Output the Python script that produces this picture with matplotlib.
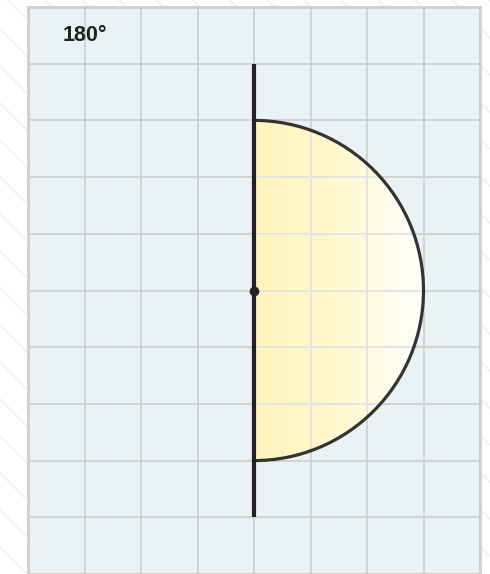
import numpy as np
import matplotlib
matplotlib.use("Agg")
import matplotlib.pyplot as plt
from matplotlib.patches import Wedge
from matplotlib.colors import LinearSegmentedColormap

# data
angle_label = "180°"
angle_deg = 180
center = (4, 0)
radius = 3
line_half_len = 4
n_cols = 8
row_range = (-5, 5)
fill_left = "#fff5bc"
fill_mid = "#fff8d0"
fill_right = "#ffffff"

fig = plt.figure(figsize=(4.9, 5.74), dpi=100)
fig.patch.set_facecolor("white")

# background diagonal lines
bg = fig.add_axes([0, 0, 1, 1])
bg.set_xlim(0, 490)
bg.set_ylim(574, 0)
bg.axis("off")
for c in np.arange(-600, 600, 37):
    bg.plot([0, 700], [c, c + 700], color="#f1f1f1", lw=1.3, zorder=0)

W, H = 490, 574
ax = fig.add_axes([28 / W, 0, 452 / W, (574 - 7) / H])
ax.set_facecolor("#eaf3f3")
for s in ax.spines.values():
    s.set_color("#cfcfcf")
    s.set_linewidth(2)
ax.set_xticks(np.arange(0, n_cols + 1))
ax.set_yticks(np.arange(row_range[0], row_range[1] + 1))
ax.tick_params(length=0, labelleft=False, labelbottom=False)
ax.grid(True, color="#d0d0d0", lw=1.3, zorder=1)
ax.set_axisbelow(True)

# gradient semicircle
cx, cy = center
theta1 = 90 - angle_deg
theta2 = 90
grad = np.linspace(0, 1, 256).reshape(1, -1)
cmap = LinearSegmentedColormap.from_list("g", [fill_left, fill_mid, fill_right])
im = ax.imshow(grad, extent=[cx, cx + radius, cy - radius, cy + radius],
               cmap=cmap, aspect="auto", zorder=3)
clip = Wedge((cx, cy), radius, theta1, theta2, transform=ax.transData)
im.set_clip_path(clip)

# faint grid lines showing through the fill
for gx in np.arange(0, n_cols + 1):
    ln, = ax.plot([gx, gx], [row_range[0], row_range[1]], color="#e3e3e3",
                  lw=1.3, zorder=3.5)
    ln.set_clip_path(Wedge((cx, cy), radius, theta1, theta2, transform=ax.transData))
for gy in np.arange(row_range[0], row_range[1] + 1):
    ln, = ax.plot([0, n_cols], [gy, gy], color="#e3e3e3", lw=1.3, zorder=3.5)
    ln.set_clip_path(Wedge((cx, cy), radius, theta1, theta2, transform=ax.transData))

wedge = Wedge((cx, cy), radius, theta1, theta2, facecolor="none",
              edgecolor="#333333", lw=2.3, zorder=4)
ax.add_patch(wedge)

ax.plot([cx, cx], [cy - line_half_len, cy + line_half_len], color="#222222",
        lw=3, zorder=5, solid_capstyle="butt")
ax.plot([cx], [cy], "o", color="#222222", ms=6, zorder=6)

ax.text(1, 4.5, angle_label, ha="center", va="center", fontsize=15.5,
        fontweight="bold", color="#222222", family=["Liberation Sans", "DejaVu Sans"])

ax.set_xlim(0, n_cols)
ax.set_ylim(row_range[0], row_range[1])

fig.savefig("out.png", dpi=100, facecolor="white")
